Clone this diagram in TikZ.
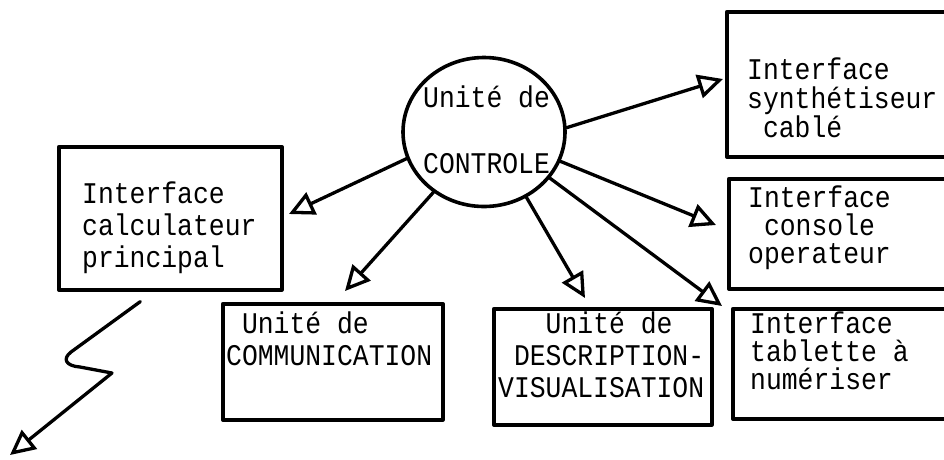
\documentclass[tikz,border=0pt]{standalone}
\usepackage{fontspec}
\usetikzlibrary{arrows.meta,shapes.geometric,calc}
% typewriter face used for every label
\newfontfamily\tw[FakeStretch=0.88]{Liberation Mono}
% left-aligned stack of lines; the box baseline is the first line's baseline
\newcommand\vlines[2]{\vtop{\baselineskip=#1\relax\lineskiplimit=-100pt\lineskip=0pt\halign{##\hfil\cr#2\crcr}}}

\begin{document}
\begin{tikzpicture}[x=1pt,y=-1pt,line cap=round,line join=round,
  box/.style={draw,line width=3.6pt,rectangle,inner sep=0pt,anchor=north west},
  lbl/.style={inner sep=0pt,anchor=base west,font=\tw\fontsize{30}{32}\selectfont},
  conn/.style={line width=3.3pt,-{Triangle[open,length=25pt,width=24pt]}}]

\fill[white] (0,0) rectangle (944,459);
\clip (0,0) rectangle (944,459);

% control unit
\node[draw,ellipse,line width=3.6pt,minimum width=162pt,minimum height=149pt,inner sep=0pt] (ctl) at (484,132) {};
\node[lbl] (ctltxt) at (423,107) {\vlines{66pt}{Unité de\cr CONTROLE}};

% boxes
\node[box,minimum width=223pt,minimum height=143pt] (calc)  at (57,145)  {};
\node[box,minimum width=220pt,minimum height=116pt] (comm)  at (221,302) {};
\node[box,minimum width=218pt,minimum height=116pt] (desc)  at (492,307) {};
\node[box,minimum width=240pt,minimum height=145pt] (synth) at (725,10)  {};
\node[box,minimum width=240pt,minimum height=110pt] (cons)  at (727,177) {};
\node[box,minimum width=240pt,minimum height=110pt] (tab)   at (731,307) {};

% box labels
\node[lbl] (calctxt)  at (82,203)  {\vlines{32pt}{Interface\cr calculateur\cr principal}};
\node[lbl] (commtxt)  at (226,333) {\vlines{32pt}{\hphantom{x}Unité de\cr COMMUNICATION}};
\node[lbl] (desctxt)  at (498,333) {\vlines{32pt}{\hphantom{xxx}Unité de\cr\hphantom{x}DESCRIPTION-\cr VISUALISATION}};
\node[lbl] (synthtxt) at (747,79)  {\vlines{29pt}{Interface\cr synthétiseur\cr\hphantom{x}cablé}};
\node[lbl] (constxt)  at (748,207) {\vlines{28pt}{Interface\cr\hphantom{x}console\cr operateur}};
\node[lbl] (tabtxt)   at (750,333) {\vlines{28pt}{Interface\cr tablette à\cr numériser}};

% arrow ends
\coordinate (tipL) at (289,214);
\coordinate (tipC) at (345,291);
\coordinate (tipD) at (585,298);
\coordinate (tipT) at (722,306);
\coordinate (tipK) at (716,225);
\coordinate (tipS) at (723,79);

\draw[conn] (ctl.199) -- (tipL);
\draw[conn] (ctl.230) -- (tipC);
\draw[conn] (ctl.-57) -- (tipD);
\draw[conn] (ctl.-35) -- (tipT);
\draw[conn] (ctl.-21) -- (tipK);
\draw[conn] (ctl.3)   -- (tipS);

% link leaving the main computer interface
\coordinate (zs) at ($(calc.south)+(-30,10)$);
\coordinate (zend) at (10,455);
\draw[conn] (zs) -- (71,352) .. controls (62,359) and (66,366) .. (80,367) -- (112,373) -- (zend);
\end{tikzpicture}
\end{document}
